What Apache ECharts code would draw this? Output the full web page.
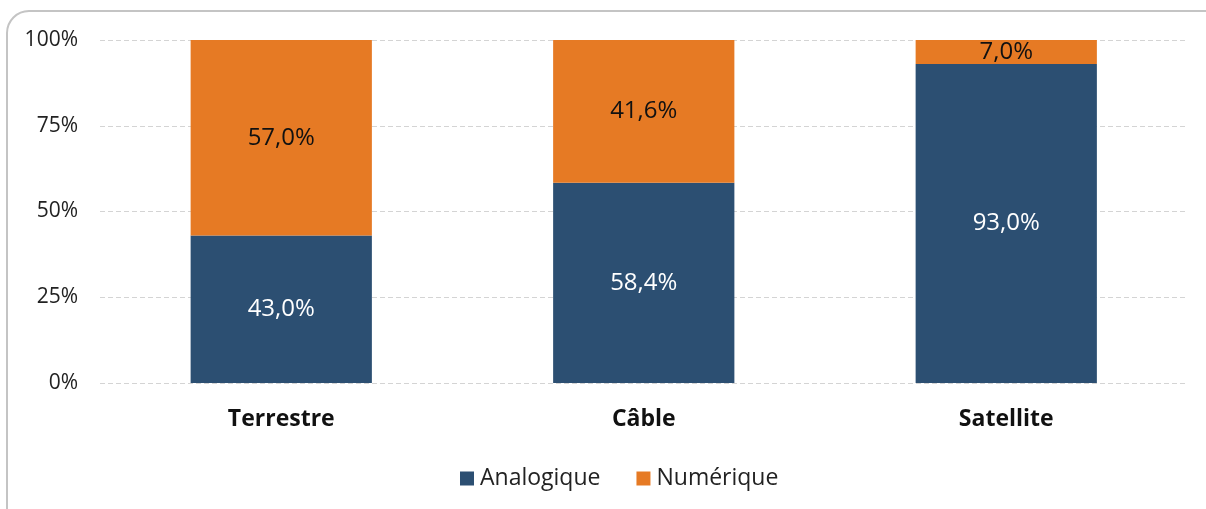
<!DOCTYPE html>
<html>
<head>
<meta charset="utf-8">
<script src="https://cdn.jsdelivr.net/npm/echarts@6/dist/echarts.min.js"></script>
<style>
html, body { margin: 0; padding: 0; background: #fff; }
#main { width: 1206px; height: 509px; }
</style>
</head>
<body>
<div id="main"></div>
<script>
// données
var categories = ['Terrestre', 'Câble', 'Satellite'];
var analogique = [43.0, 58.4, 93.0];
var numerique = [57.0, 41.6, 7.0];
var yTicks = [0, 25, 50, 75, 100];

var fmt = function (p) {
    return p.value.toFixed(1).replace('.', ',') + '%';
};

var chartDom = document.getElementById('main');
var myChart = echarts.init(chartDom);
var option = {
    animation: false,
    textStyle: { fontFamily: '"Open Sans", sans-serif' },
    graphic: [
        {
            type: 'rect',
            shape: { x: 7, y: 11, width: 1230, height: 540, r: 22 },
            style: { fill: 'none', stroke: '#c4c4c4', lineWidth: 2 },
            silent: true
        }
    ],
    grid: { left: 100, right: 18.5, top: 40, bottom: 126 },
    legend: {
        bottom: 14,
        left: 455,
        itemWidth: 14,
        itemHeight: 14,
        itemGap: 36,
        icon: 'rect',
        textStyle: { fontSize: 23, color: '#222', fontFamily: '"Open Sans", sans-serif', padding: [0, 0, 0, 1] },
        data: ['Analogique', 'Numérique']
    },
    xAxis: {
        type: 'category',
        data: categories,
        axisLine: { show: false },
        axisTick: { show: false },
        axisLabel: { fontSize: 23, fontWeight: 'bold', color: '#111', margin: 25 }
    },
    yAxis: {
        type: 'value',
        min: 0,
        max: 100,
        interval: 25,
        axisLine: { show: false },
        axisTick: { show: false },
        axisLabel: {
            fontSize: 21,
            color: '#222',
            margin: 22,
            formatter: function (v) { return yTicks.indexOf(v) >= 0 ? v + '%' : ''; }
        },
        splitLine: { lineStyle: { color: '#d4d4d4', type: [5, 3], width: 1 } }
    },
    series: [
        {
            name: 'Analogique',
            type: 'bar',
            stack: 'total',
            barWidth: '50%',
            data: analogique,
            itemStyle: { color: '#2C4F72' },
            label: { show: true, position: 'inside', formatter: fmt, fontSize: 24, color: '#fff' }
        },
        {
            name: 'Numérique',
            type: 'bar',
            stack: 'total',
            barWidth: '50%',
            data: numerique,
            itemStyle: { color: '#E67A24' },
            label: { show: true, position: 'inside', formatter: fmt, fontSize: 24, color: '#111' }
        }
    ]
};
option && myChart.setOption(option);
</script>
</body>
</html>
